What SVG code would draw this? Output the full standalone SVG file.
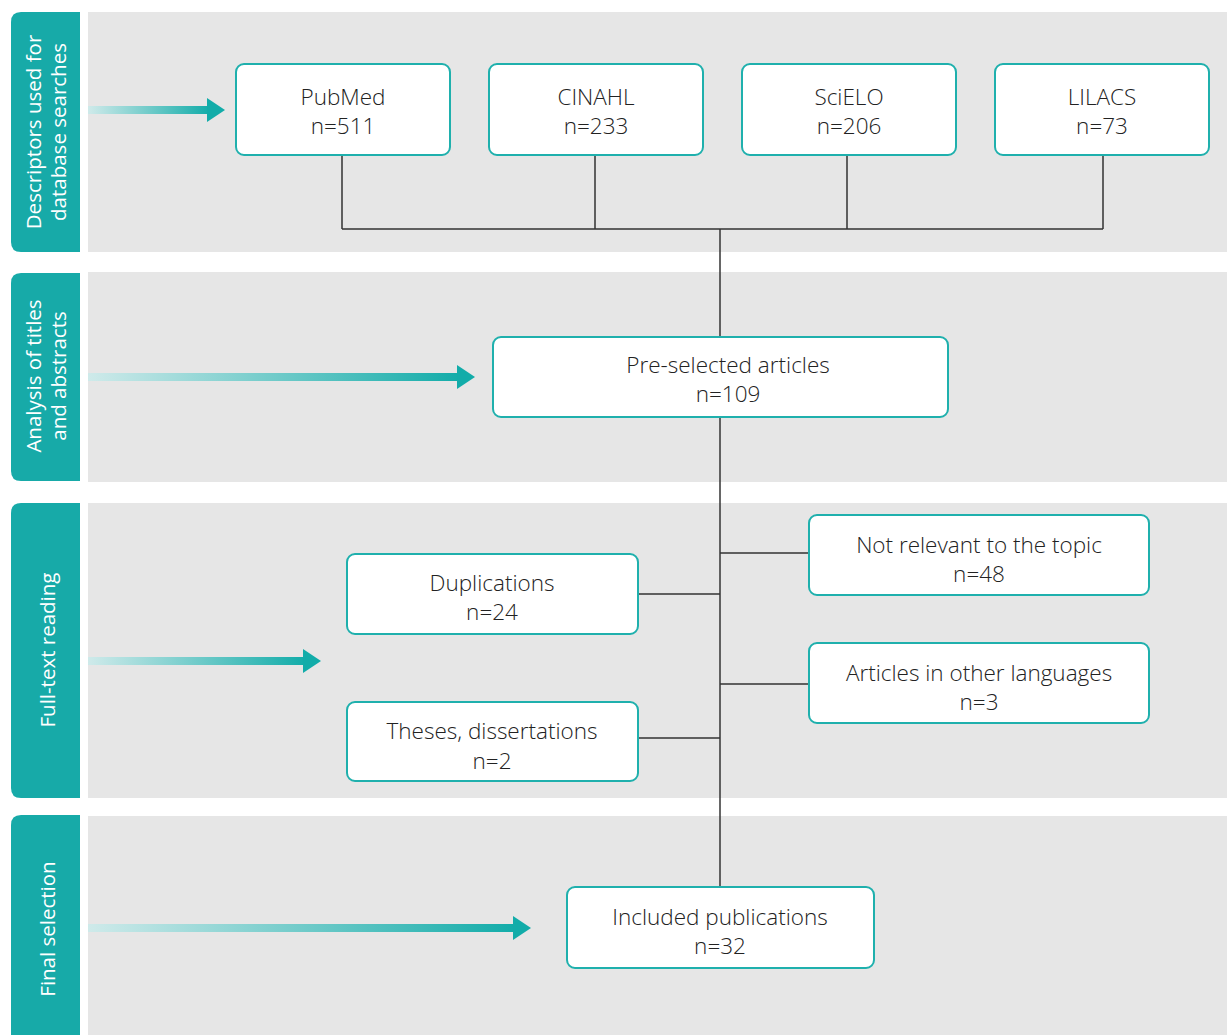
<svg xmlns="http://www.w3.org/2000/svg" width="1227" height="1035" viewBox="0 0 1227 1035">
<defs>
<linearGradient id="arrowGrad" x1="0" y1="0" x2="1" y2="0">
<stop offset="0" stop-color="#cfeaea"/>
<stop offset="1" stop-color="#12aca9"/>
</linearGradient>
<style>
.band{fill:#e6e6e6}
.side{fill:#17aaa8}
.sidetxt{fill:#ffffff;font-family:"Open Sans","Liberation Sans",sans-serif;font-size:20.5px;font-weight:400;text-anchor:middle}
.box{fill:#ffffff;stroke:#1fb0ad;stroke-width:2}
.txt{fill:#222222;font-family:"Open Sans","Liberation Sans",sans-serif;font-size:22.5px;font-weight:300;text-anchor:middle}
.conn{stroke:#333333;stroke-width:1.5;fill:none}
.head{fill:#12aca9}
</style>
</defs>
<rect width="1227" height="1035" fill="#ffffff"/>
<g id="bands">
<rect class="band" x="88" y="12" width="1139" height="240"/>
<rect class="band" x="88" y="272" width="1139" height="210"/>
<rect class="band" x="88" y="503" width="1139" height="295"/>
<rect class="band" x="88" y="816" width="1139" height="219"/>
</g>
<g id="stage1-label">
<path class="side" d="M80 12 V252 H21 Q11 252 11 242 V22 Q11 12 21 12 Z"/>
<text class="sidetxt" transform="translate(46 132) rotate(-90)"><tspan x="0" y="-5">Descriptors used for</tspan><tspan x="0" y="20">database searches</tspan></text>
</g>
<g id="stage2-label">
<path class="side" d="M80 273 V481 H21 Q11 481 11 471 V283 Q11 273 21 273 Z"/>
<text class="sidetxt" transform="translate(46 376) rotate(-90)"><tspan x="0" y="-5">Analysis of titles</tspan><tspan x="0" y="20">and abstracts</tspan></text>
</g>
<g id="stage3-label">
<path class="side" d="M80 503 V798 H21 Q11 798 11 788 V513 Q11 503 21 503 Z"/>
<text class="sidetxt" transform="translate(55 650) rotate(-90)"><tspan x="0" y="0">Full-text reading</tspan></text>
</g>
<g id="stage4-label">
<path class="side" d="M80 815 V1035 H11 V825 Q11 815 21 815 Z"/>
<text class="sidetxt" transform="translate(55 929) rotate(-90)"><tspan x="0" y="0">Final selection</tspan></text>
</g>
<g id="stage-arrows">
<rect x="88" y="106" width="122" height="8" fill="url(#arrowGrad)"/>
<polygon class="head" points="207,98 225,110 207,122"/>
<rect x="88" y="373" width="372" height="8" fill="url(#arrowGrad)"/>
<polygon class="head" points="457,365 475,377 457,389"/>
<rect x="88" y="657" width="218" height="8" fill="url(#arrowGrad)"/>
<polygon class="head" points="303,649 321,661 303,673"/>
<rect x="88" y="924" width="428" height="8" fill="url(#arrowGrad)"/>
<polygon class="head" points="513,916 531,928 513,940"/>
</g>
<g id="connectors">
<path class="conn" d="M342 155 V229 M595 155 V229 M847 155 V229 M1103 155 V229 M342 229 H1103"/>
<path class="conn" d="M720 229 V337"/>
<path class="conn" d="M720 417 V887"/>
<path class="conn" d="M720 553 H809 M720 684 H809 M638 594 H720 M638 738 H720"/>
</g>
<g id="pubmed">
<rect class="box" x="236" y="64" width="214" height="91" rx="8"/>
<text class="txt" x="343" y="105">PubMed</text>
<text class="txt" x="343" y="134">n=511</text>
</g>
<g id="cinahl">
<rect class="box" x="489" y="64" width="214" height="91" rx="8"/>
<text class="txt" x="596" y="105">CINAHL</text>
<text class="txt" x="596" y="134">n=233</text>
</g>
<g id="scielo">
<rect class="box" x="742" y="64" width="214" height="91" rx="8"/>
<text class="txt" x="849" y="105">SciELO</text>
<text class="txt" x="849" y="134">n=206</text>
</g>
<g id="lilacs">
<rect class="box" x="995" y="64" width="214" height="91" rx="8"/>
<text class="txt" x="1102" y="105">LILACS</text>
<text class="txt" x="1102" y="134">n=73</text>
</g>
<g id="preselected">
<rect class="box" x="493" y="337" width="455" height="80" rx="8"/>
<text class="txt" x="728" y="373">Pre-selected articles</text>
<text class="txt" x="728" y="402">n=109</text>
</g>
<g id="not-relevant">
<rect class="box" x="809" y="515" width="340" height="80" rx="8"/>
<text class="txt" x="979" y="553">Not relevant to the topic</text>
<text class="txt" x="979" y="582">n=48</text>
</g>
<g id="duplications">
<rect class="box" x="347" y="554" width="291" height="80" rx="8"/>
<text class="txt" x="492" y="591">Duplications</text>
<text class="txt" x="492" y="620">n=24</text>
</g>
<g id="other-languages">
<rect class="box" x="809" y="643" width="340" height="80" rx="8"/>
<text class="txt" x="979" y="681">Articles in other languages</text>
<text class="txt" x="979" y="710">n=3</text>
</g>
<g id="theses">
<rect class="box" x="347" y="702" width="291" height="79" rx="8"/>
<text class="txt" x="492" y="739">Theses, dissertations</text>
<text class="txt" x="492" y="769">n=2</text>
</g>
<g id="included">
<rect class="box" x="567" y="887" width="307" height="81" rx="8"/>
<text class="txt" x="720" y="925">Included publications</text>
<text class="txt" x="720" y="954">n=32</text>
</g>
</svg>
